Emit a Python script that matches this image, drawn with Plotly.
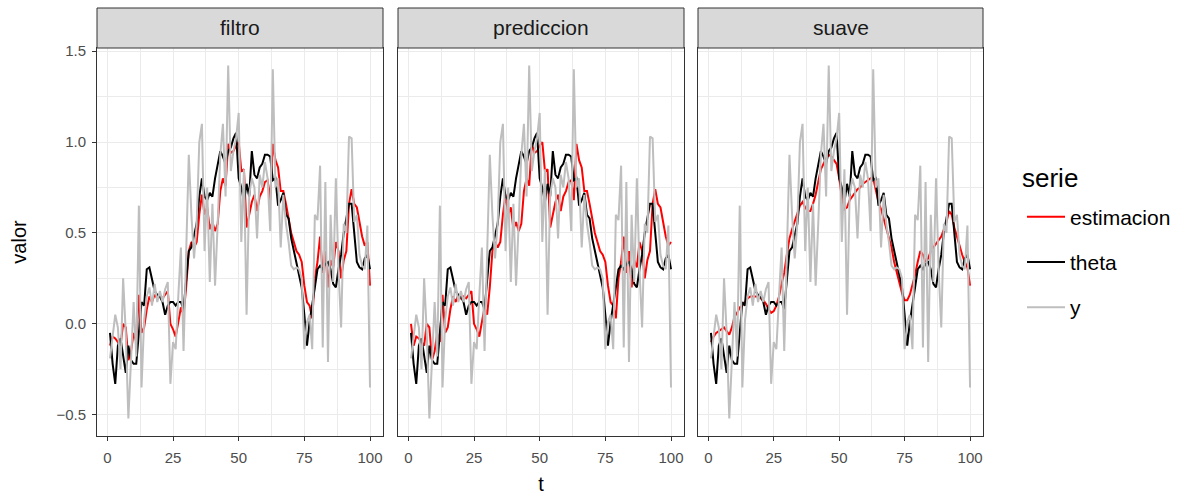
import plotly.graph_objects as go

t = list(range(1, 101))

theta = [-0.05, -0.22, -0.33, -0.12, -0.08, -0.18, -0.27, -0.12, -0.20, -0.22,
         -0.22, -0.05, 0.12, 0.10, 0.30, 0.31, 0.25, 0.18, 0.16, 0.15,
         0.12, 0.05, 0.10, 0.12, 0.12, 0.10, 0.12, 0.12, 0.08, 0.25,
         0.40, 0.42, 0.48, 0.55, 0.70, 0.80, 0.70, 0.68, 0.72, 0.70,
         0.80, 0.88, 0.95, 0.92, 0.88, 0.95, 0.97, 1.02, 1.05, 0.80,
         0.75, 0.67, 0.77, 0.70, 0.95, 0.82, 0.80, 0.86, 0.88, 0.93,
         0.93, 0.92, 0.79, 0.80, 0.65, 0.68, 0.72, 0.60, 0.58, 0.47,
         0.40, 0.32, 0.25, 0.20, 0.05, -0.12, 0.01, 0.12, 0.20, 0.30,
         0.32, 0.30, 0.33, 0.34, 0.30, 0.22, 0.20, 0.30, 0.38, 0.50,
         0.58, 0.66, 0.66, 0.50, 0.34, 0.31, 0.30, 0.36, 0.38, 0.30]

y = [-0.19, -0.05, 0.05, -0.02, -0.25, 0.25, -0.05, -0.52, -0.15, 0.12,
     -0.18, 0.65, -0.35, 0.02, 0.15, 0.20, 0.10, 0.22, 0.12, 0.18,
     0.12, 0.19, 0.23, -0.33, -0.10, -0.14, 0.15, 0.42, -0.15, 0.35,
     0.93, 0.60, 0.36, 0.55, 1.00, 1.10, 0.40, 0.75, 0.23, 0.66,
     0.21, 0.55, 0.93, 1.10, 0.70, 1.42, 0.84, 0.95, 1.02, 1.16,
     0.45, 0.85, 0.05, 0.71, 0.80, 0.75, 0.47, 0.82, 0.75, 0.89,
     0.80, 0.51, 1.40, 0.75, 0.80, 0.42, 0.71, 0.55, 0.45, 0.32,
     0.30, 0.31, 0.30, 0.25, -0.14, 0.01, 0.05, -0.14, 0.60, 0.57,
     0.87, -0.13, 0.78, -0.21, 0.60, 0.23, 0.80, 0.30, -0.02, 0.55,
     0.50, 1.03, 1.02, 0.56, 0.60, 0.38, 0.32, 0.30, 0.54, -0.35]

filtro = [-0.12, -0.07, -0.08, -0.10, -0.12, 0.00, -0.02, -0.20, -0.15, -0.05,
          -0.10, 0.16, -0.05, -0.02, 0.08, 0.15, 0.12, 0.16, 0.14, 0.15,
          0.14, 0.16, 0.18, 0.00, -0.03, -0.07, 0.02, 0.09, 0.05, 0.20,
          0.40, 0.45, 0.42, 0.45, 0.60, 0.71, 0.60, 0.64, 0.52, 0.56,
          0.51, 0.55, 0.73, 0.80, 0.76, 0.99, 0.94, 0.95, 0.98, 1.00,
          0.84, 0.85, 0.53, 0.60, 0.67, 0.71, 0.62, 0.70, 0.73, 0.78,
          0.79, 0.68, 0.99, 0.90, 0.86, 0.73, 0.73, 0.66, 0.58, 0.50,
          0.45, 0.40, 0.38, 0.34, 0.21, 0.12, 0.10, 0.03, 0.25, 0.34,
          0.48, 0.28, 0.40, 0.20, 0.35, 0.31, 0.45, 0.40, 0.25, 0.35,
          0.40, 0.66, 0.74, 0.66, 0.64, 0.55, 0.48, 0.43, 0.45, 0.21]

prediccion = [0.00, -0.12, -0.07, -0.08, -0.10, -0.12, 0.00, -0.02, -0.20, -0.15,
              -0.05, -0.10, 0.16, -0.05, -0.02, 0.08, 0.15, 0.12, 0.16, 0.14,
              0.15, 0.14, 0.16, 0.18, 0.00, -0.03, -0.07, 0.02, 0.09, 0.05,
              0.20, 0.40, 0.45, 0.42, 0.45, 0.60, 0.71, 0.60, 0.64, 0.52,
              0.56, 0.51, 0.55, 0.73, 0.80, 0.76, 0.99, 0.94, 0.95, 0.98,
              1.00, 0.84, 0.85, 0.53, 0.60, 0.67, 0.71, 0.62, 0.70, 0.73,
              0.78, 0.79, 0.68, 0.99, 0.90, 0.86, 0.73, 0.73, 0.66, 0.58,
              0.50, 0.45, 0.40, 0.38, 0.34, 0.21, 0.12, 0.10, 0.03, 0.25,
              0.34, 0.48, 0.28, 0.40, 0.20, 0.35, 0.31, 0.45, 0.40, 0.25,
              0.35, 0.40, 0.66, 0.74, 0.66, 0.64, 0.55, 0.48, 0.43, 0.45]

suave = [-0.10, -0.07, -0.05, -0.04, -0.03, -0.02, -0.04, -0.06, -0.02, 0.04,
         0.06, 0.09, 0.10, 0.12, 0.14, 0.15, 0.15, 0.15, 0.15, 0.14,
         0.13, 0.11, 0.08, 0.06, 0.07, 0.10, 0.15, 0.22, 0.28, 0.38,
         0.47, 0.52, 0.56, 0.60, 0.65, 0.67, 0.64, 0.62, 0.62, 0.66,
         0.71, 0.78, 0.85, 0.88, 0.91, 0.93, 0.92, 0.90, 0.88, 0.80,
         0.70, 0.63, 0.64, 0.68, 0.70, 0.72, 0.74, 0.75, 0.77, 0.78,
         0.79, 0.80, 0.80, 0.74, 0.67, 0.63, 0.58, 0.52, 0.47, 0.42,
         0.34, 0.28, 0.23, 0.17, 0.13, 0.13, 0.16, 0.21, 0.27, 0.34,
         0.40, 0.38, 0.34, 0.36, 0.40, 0.42, 0.44, 0.46, 0.48, 0.52,
         0.56, 0.62, 0.60, 0.53, 0.48, 0.42, 0.38, 0.34, 0.31, 0.21]

paneles = ["filtro", "prediccion", "suave"]
estimaciones = [filtro, prediccion, suave]
series = ["estimacion", "theta", "y"]
colores = {"estimacion": "#FF0000", "theta": "#000000", "y": "#BEBEBE"}

FONT = "Liberation Sans, Arial, sans-serif"
W, H = 1185, 496
ml, mr, mt, mb = 97, 202, 48, 60
pw = W - ml - mr
ph = H - mt - mb
panel_px = [(0, 286), (301, 587), (601, 886)]
domains = [[a / pw, b / pw] for a, b in panel_px]

fig = go.Figure()

allv = y + theta + filtro + prediccion + suave
vmin, vmax = min(allv), max(allv)
pad = (vmax - vmin) * 0.05
yrange = [vmin - pad, vmax + pad]
xrange = [1 - 99 * 0.05, 100 + 99 * 0.05]

for i, (nombre, est) in enumerate(zip(paneles, estimaciones)):
    xa = "x" if i == 0 else f"x{i+1}"
    ya = "y" if i == 0 else f"y{i+1}"
    datos = {"estimacion": est, "theta": theta, "y": y}
    for s in series:
        fig.add_trace(go.Scatter(
            x=t, y=datos[s], mode="lines", name=s,
            line=dict(color=colores[s], width=2),
            legendgroup=s, showlegend=(i == 0),
            xaxis=xa, yaxis=ya, hoverinfo="skip"))

grid = "#EBEBEB"
tickfont = dict(family=FONT, size=15, color="#4D4D4D")
titlefont = dict(family=FONT, size=20, color="#000000")
for i in range(3):
    kx = "xaxis" if i == 0 else f"xaxis{i+1}"
    ky = "yaxis" if i == 0 else f"yaxis{i+1}"
    fig.layout[kx] = dict(
        domain=domains[i], range=xrange, anchor="y" if i == 0 else f"y{i+1}",
        automargin=False,
        tickmode="array", tickvals=[0, 25, 50, 75, 100],
        showgrid=True, gridcolor=grid, gridwidth=1.1,
        minor=dict(tickmode="array", tickvals=[12.5, 37.5, 62.5, 87.5],
                   showgrid=True, gridcolor=grid, gridwidth=0.55),
        ticks="outside", ticklen=4, tickcolor="#333333", tickwidth=1,
        ticklabelstandoff=4,
        tickfont=tickfont, zeroline=False,
        showline=True, mirror=True, linecolor="#333333", linewidth=1,
        title=dict(text="t" if i == 1 else "", font=titlefont, standoff=11),
    )
    fig.layout[ky] = dict(
        domain=[0, 1], range=yrange, anchor="x" if i == 0 else f"x{i+1}",
        automargin=False,
        tickmode="array", tickvals=[-0.5, 0.0, 0.5, 1.0, 1.5],
        ticktext=["\u22120.5", "0.0", "0.5", "1.0", "1.5"],
        showgrid=True, gridcolor=grid, gridwidth=1.1,
        minor=dict(tickmode="array", tickvals=[-0.25, 0.25, 0.75, 1.25],
                   showgrid=True, gridcolor=grid, gridwidth=0.55),
        ticks="outside" if i == 0 else "", ticklen=4, tickcolor="#333333", tickwidth=1,
        ticklabelstandoff=3,
        showticklabels=(i == 0), tickfont=tickfont, zeroline=False,
        showline=True, mirror=True, linecolor="#333333", linewidth=1,
        title=dict(text="valor" if i == 0 else "", font=titlefont, standoff=24),
    )

strip_h = 40 / ph
for i, nombre in enumerate(paneles):
    fig.add_shape(type="rect", xref="paper", yref="paper",
                  x0=domains[i][0], x1=domains[i][1], y0=1.0, y1=1.0 + strip_h,
                  fillcolor="#D9D9D9", line=dict(color="#333333", width=1))
    fig.add_annotation(xref="paper", yref="paper",
                       x=(domains[i][0] + domains[i][1]) / 2, y=1.0 + strip_h / 2,
                       xanchor="center", yanchor="middle",
                       text=nombre, showarrow=False,
                       font=dict(family=FONT, size=21, color="#1A1A1A"))

# legend title
fig.add_annotation(xref="paper", yref="paper", x=(1020 - ml) / pw, y=(H - mb - 178) / ph,
                   xanchor="left", yanchor="middle", text="serie", showarrow=False,
                   font=dict(family=FONT, size=26, color="#000000"))

fig.update_layout(
    width=W, height=H,
    margin=dict(l=ml, r=mr, t=mt, b=mb, autoexpand=False),
    paper_bgcolor="white", plot_bgcolor="white",
    font=dict(family=FONT),
    legend=dict(
        x=(1022 - ml) / pw, y=(H - mb - 262) / ph, xanchor="left", yanchor="middle",
        font=dict(size=21, color="#000000"),
        tracegroupgap=15, itemwidth=38,
        bgcolor="rgba(0,0,0,0)",
    ),
)

fig.write_html("out.html", config={"displayModeBar": False},
               post_script="document.body.style.margin='0px';")
